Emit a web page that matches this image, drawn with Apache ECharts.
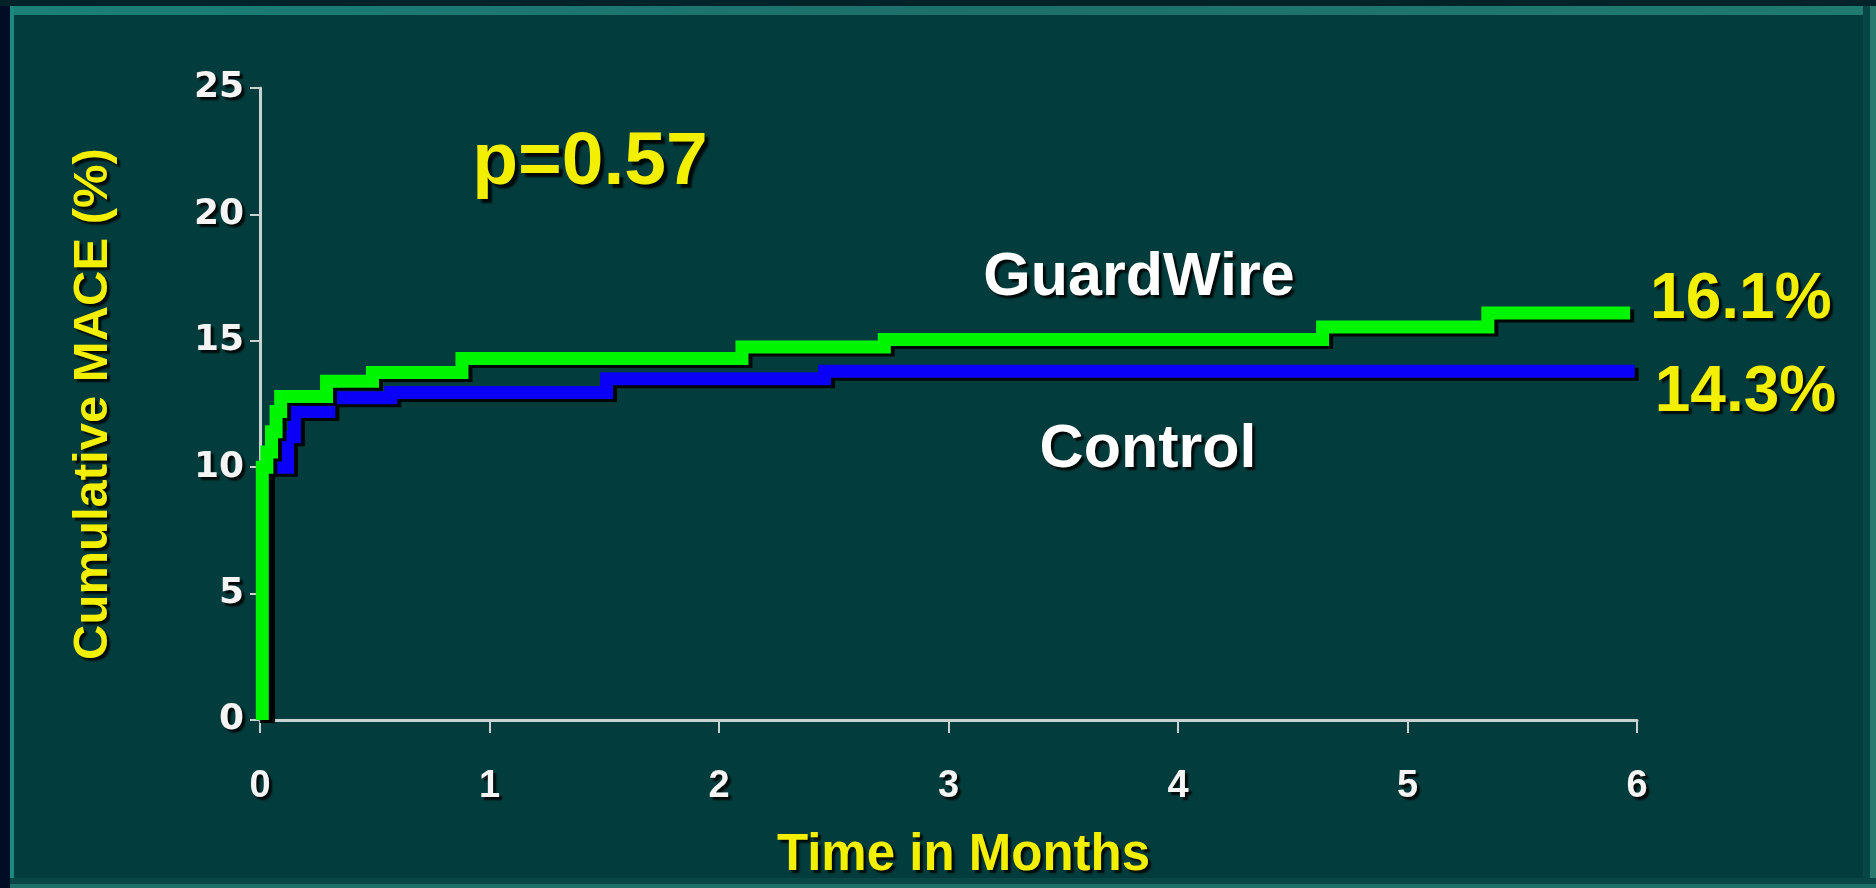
<!DOCTYPE html>
<html>
<head>
<meta charset="utf-8">
<title>Cumulative MACE</title>
<script src="https://cdn.jsdelivr.net/npm/echarts@6/dist/echarts.min.js"></script>
<style>
  html, body { margin: 0; padding: 0; background: #001a26; }
  #main { width: 1876px; height: 888px; }
</style>
</head>
<body>
<div id="main"></div>
<script>
// Kaplan-Meier steps: [month, cumulative MACE %]
var guardWire = [
    [0.01, 0], [0.01, 10], [0.03, 10.6], [0.05, 11.4], [0.07, 12.2], [0.09, 12.8],
    [0.29, 13.4], [0.49, 13.75], [0.88, 14.3], [2.1, 14.75], [2.72, 15.05],
    [4.63, 15.55], [5.35, 16.1], [5.97, 16.1]
];
var control = [
    [0.02, 0], [0.02, 10], [0.12, 11.2], [0.15, 12.2], [0.3, 12.75], [0.57, 12.95],
    [1.51, 13.5], [2.46, 13.8], [5.99, 13.8]
];
var seriesNames = ['Control', 'GuardWire'];
var endLabels = ['14.3%', '16.1%'];
var pValue = 'p=0.57';
var xTicks = [0, 1, 2, 3, 4, 5, 6];
var yTicks = [0, 5, 10, 15, 20, 25];

var FONT = '"Liberation Sans", Arial, sans-serif';
var WIDE = '"DejaVu Sans", Verdana, sans-serif';
var YELLOW = '#f2f000';

var myChart = echarts.init(document.getElementById('main'));

function shadowText(extra) {
    var s = {
        fontFamily: FONT,
        fontWeight: 'bold',
        textShadowColor: 'rgba(0,0,0,0.85)',
        textShadowBlur: 2,
        textShadowOffsetX: 3,
        textShadowOffsetY: 3
    };
    for (var k in extra) s[k] = extra[k];
    return s;
}

function lineSeries(name, data, color, label, dy) {
    return {
        name: name,
        type: 'line',
        step: 'end',
        data: data,
        symbol: 'none',
        lineStyle: {
            color: color,
            width: 13,
            cap: 'butt',
            join: 'miter',
            shadowColor: 'rgba(0,0,0,0.9)',
            shadowBlur: 0,
            shadowOffsetX: 4,
            shadowOffsetY: 3
        },
        endLabel: {
            show: true,
            formatter: label,
            distance: 20,
            offset: [0, dy],
            color: YELLOW,
            fontSize: 64,
            fontFamily: FONT,
            fontWeight: 'bold',
            textShadowColor: 'rgba(0,0,0,0.85)',
            textShadowBlur: 2,
            textShadowOffsetX: 3,
            textShadowOffsetY: 3
        }
    };
}

var option = {
    backgroundColor: '#033c3c',
    animation: false,
    grid: { left: 260, right: 239, top: 88, bottom: 168 },
    xAxis: {
        type: 'value',
        min: xTicks[0],
        max: xTicks[xTicks.length - 1],
        interval: 1,
        name: 'Time in Months',
        nameLocation: 'middle',
        nameGap: 110,
        nameTextStyle: shadowText({ color: YELLOW, fontSize: 51, padding: [0, 0, 0, 30] }),
        axisLine: { lineStyle: { color: '#c8d2d2', width: 3 } },
        axisTick: { length: 13, lineStyle: { color: '#c8d2d2', width: 2 } },
        axisLabel: shadowText({ color: '#f4f4f4', fontSize: 38, margin: 48 }),
        splitLine: { show: false }
    },
    yAxis: {
        type: 'value',
        min: yTicks[0],
        max: yTicks[yTicks.length - 1],
        interval: 5,
        name: 'Cumulative MACE (%)',
        nameLocation: 'middle',
        nameRotate: 90,
        nameGap: 142,
        nameTextStyle: shadowText({ color: YELLOW, fontSize: 49 }),
        axisLine: { show: true, lineStyle: { color: '#c8d2d2', width: 3 } },
        axisTick: { show: true, length: 10, lineStyle: { color: '#c8d2d2', width: 2 } },
        axisLabel: shadowText({ color: '#f4f4f4', fontSize: 36, fontFamily: WIDE, margin: 16 }),
        splitLine: { show: false }
    },
    graphic: [
        { type: 'rect', left: 0, top: 0, shape: { width: 10, height: 888 }, style: { fill: '#000d24' }, z: 100 },
        { type: 'rect', left: 0, top: 0, shape: { width: 1876, height: 6 }, style: { fill: '#00232a' }, z: 100 },
        { type: 'rect', left: 10, top: 6, shape: { width: 1866, height: 9 },
          style: { fill: new echarts.graphic.LinearGradient(0, 0, 1, 0, [
              { offset: 0, color: '#1a8078' }, { offset: 0.5, color: '#1d6f6a' }, { offset: 1, color: '#1f7a70' }
          ]) }, z: 100 },
        { type: 'rect', left: 10, top: 6, shape: { width: 4, height: 882 }, style: { fill: '#1a8a80' }, z: 100 },
        { type: 'rect', left: 1863, top: 6, shape: { width: 7, height: 882 }, style: { fill: '#064646' }, z: 100 },
        { type: 'rect', left: 1870, top: 6, shape: { width: 6, height: 882 }, style: { fill: '#2a7a70' }, z: 100 },
        { type: 'rect', left: 10, top: 878, shape: { width: 1866, height: 10 }, style: { fill: '#0a4646' }, z: 100 },
        { type: 'rect', left: 10, top: 884, shape: { width: 1866, height: 4 }, style: { fill: '#1c7068' }, z: 100 },
        {
            type: 'text', x: 590, y: 163, z: 50,
            style: {
                text: pValue, fill: YELLOW, font: 'bold 75px ' + FONT,
                align: 'center', verticalAlign: 'middle',
                textShadowColor: 'rgba(0,0,0,0.85)', textShadowBlur: 2, textShadowOffsetX: 4, textShadowOffsetY: 4
            }
        },
        {
            type: 'text', x: 1139, y: 278, z: 50,
            style: {
                text: seriesNames[1], fill: '#ffffff', font: 'bold 61px ' + FONT,
                align: 'center', verticalAlign: 'middle',
                textShadowColor: 'rgba(0,0,0,0.85)', textShadowBlur: 2, textShadowOffsetX: 3, textShadowOffsetY: 3
            }
        },
        {
            type: 'text', x: 1148, y: 450, z: 50,
            style: {
                text: seriesNames[0], fill: '#ffffff', font: 'bold 61px ' + FONT,
                align: 'center', verticalAlign: 'middle',
                textShadowColor: 'rgba(0,0,0,0.85)', textShadowBlur: 2, textShadowOffsetX: 3, textShadowOffsetY: 3
            }
        }
    ],
    series: [
        lineSeries(seriesNames[0], control, '#0a00f5', endLabels[0], 22),
        lineSeries(seriesNames[1], guardWire, '#00f500', endLabels[1], -13)
    ]
};

myChart.setOption(option);
</script>
</body>
</html>
